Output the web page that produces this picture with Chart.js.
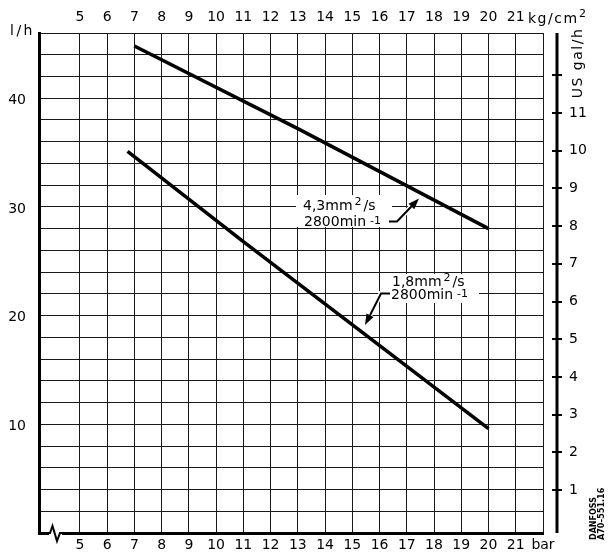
<!DOCTYPE html>
<html>
<head>
<meta charset="utf-8">
<script src="https://cdn.jsdelivr.net/npm/chart.js@4.4.0/dist/chart.umd.min.js"></script>
<style>
  html, body { margin: 0; padding: 0; background: #fff; }
  #wrap { width: 615px; height: 556px; }
</style>
</head>
<body>
<div id="wrap"><canvas id="chart" width="615" height="556"></canvas></div>
<script>
// pressure ticks (bar / kg/cm2), flow ticks (l/h), US gal/h ticks
const barTicks = [5, 6, 7, 8, 9, 10, 11, 12, 13, 14, 15, 16, 17, 18, 19, 20, 21];
const flowTicks = [10, 20, 30, 40];
const galTicks = [1, 2, 3, 4, 5, 6, 7, 8, 9, 10, 11];
const galMarks = [1, 2, 3, 4, 5, 6, 7, 8, 9, 10, 11, 12];

// curves
const visc43Pressure = [7, 13, 20];
const visc43Flow = [44.8, 37.2, 28.0];
const visc18Pressure = [6.75, 11, 20];
const visc18Flow = [35.1, 26.8, 9.6];

const FONT = '"DejaVu Sans", sans-serif';
const GRID = "#1a1a1a";

function toPoints(xs, ys) {
  return xs.map((x, i) => ({ x, y: ys[i] }));
}

function drawRich(ctx, x, y, parts) {
  parts.forEach(p => {
    ctx.font = p.size + "px " + FONT;
    x += p.dx || 0;
    ctx.fillText(p.t, x, y + (p.dy || 0));
    x += ctx.measureText(p.t).width;
  });
}

function arrow(ctx, pts) {
  const n = pts.length;
  const [tx, ty] = pts[n - 1];
  const [px, py] = pts[n - 2];
  const ang = Math.atan2(ty - py, tx - px);
  const len = 11, half = 4;
  const bx = tx - len * Math.cos(ang), by = ty - len * Math.sin(ang);
  // white halo then black stroke
  [["#fff", 5], ["#000", 2]].forEach(([c, w]) => {
    ctx.strokeStyle = c;
    ctx.lineWidth = w;
    ctx.beginPath();
    ctx.moveTo(pts[0][0], pts[0][1]);
    for (let i = 1; i < n - 1; i++) ctx.lineTo(pts[i][0], pts[i][1]);
    ctx.lineTo(bx, by);
    ctx.stroke();
  });
  ctx.fillStyle = "#000";
  ctx.beginPath();
  ctx.moveTo(tx, ty);
  ctx.lineTo(bx + half * Math.sin(ang), by - half * Math.cos(ang));
  ctx.lineTo(bx - half * Math.sin(ang), by + half * Math.cos(ang));
  ctx.closePath();
  ctx.fill();
}

const extras = {
  id: "extras",
  afterDraw(chart) {
    const ctx = chart.ctx;
    const area = chart.chartArea;
    const y2 = chart.scales.y2;
    ctx.save();
    ctx.fillStyle = "#000";
    ctx.strokeStyle = "#000";

    // right hand US gal/h axis
    const ax = 557;
    ctx.lineWidth = 3;
    ctx.beginPath();
    ctx.moveTo(ax, area.top);
    ctx.lineTo(ax, area.bottom);
    ctx.stroke();
    ctx.lineWidth = 2;
    galMarks.forEach(v => {
      const py = Math.round(y2.getPixelForValue(v));
      ctx.beginPath();
      ctx.moveTo(ax - 5, py);
      ctx.lineTo(ax + 5, py);
      ctx.stroke();
    });

    // unit labels
    ctx.textBaseline = "middle";
    ctx.textAlign = "left";
    ctx.font = "14px " + FONT;
    ctx.letterSpacing = "2.5px";
    ctx.fillText("l/h", 10, 31);
    ctx.letterSpacing = "1.5px";
    ctx.fillText("kg/cm", 528, 19);
    ctx.letterSpacing = "0px";
    ctx.font = "11px " + FONT;
    ctx.fillText("2", 579, 14);

    ctx.save();
    ctx.translate(578.5, 63);
    ctx.rotate(-Math.PI / 2);
    ctx.textAlign = "center";
    ctx.font = "14px " + FONT;
    ctx.letterSpacing = "1.5px";
    ctx.fillText("US gal/h", 0, 0);
    ctx.restore();

    // axis break on the pressure axis
    ctx.fillStyle = "#fff";
    ctx.fillRect(49, area.bottom - 3, 13, 6);
    ctx.strokeStyle = "#000";
    ctx.lineWidth = 2;
    ctx.beginPath();
    ctx.moveTo(48, area.bottom);
    ctx.lineTo(50, area.bottom);
    ctx.lineTo(52.5, area.bottom - 7);
    ctx.lineTo(57, area.bottom + 8);
    ctx.lineTo(60, area.bottom);
    ctx.lineTo(63, area.bottom);
    ctx.stroke();

    // curve annotations
    ctx.fillStyle = "#fff";
    ctx.fillRect(296, 195, 96, 32);
    ctx.fillRect(383, 274, 96, 29);
    ctx.fillStyle = "#000";
    ctx.textBaseline = "alphabetic";
    drawRich(ctx, 303, 209.5, [{ t: "4,3mm", size: 14 }, { t: "2", size: 11, dx: 2, dy: -5 }, { t: "/s", size: 14, dx: 2 }]);
    drawRich(ctx, 304, 225.5, [{ t: "2800min", size: 14 }, { t: "-1", size: 11, dx: 4, dy: -2 }]);
    drawRich(ctx, 392, 285.5, [{ t: "1,8mm", size: 14 }, { t: "2", size: 11, dx: 2, dy: -5 }, { t: "/s", size: 14, dx: 2 }]);
    drawRich(ctx, 391, 298.5, [{ t: "2800min", size: 14 }, { t: "-1", size: 11, dx: 4, dy: -2 }]);
    arrow(ctx, [[389, 221.5], [397, 221.5], [419, 198.5]]);
    arrow(ctx, [[390, 293.5], [381, 293.5], [365, 325]]);

    // drawing number
    ctx.font = "bold 8px " + FONT;
    ctx.textBaseline = "middle";
    ctx.textAlign = "left";
    ctx.save();
    ctx.translate(594, 540);
    ctx.rotate(-Math.PI / 2);
    ctx.fillText("DANFOSS", 0, 0);
    ctx.restore();
    ctx.save();
    ctx.translate(601.5, 540);
    ctx.rotate(-Math.PI / 2);
    ctx.fillText("A70\u2013551.16", 0, 0);
    ctx.restore();

    ctx.restore();
  }
};

const flowGrid = [];
for (let v = 0; v <= 46; v += 2) flowGrid.push(v);

const tickFont = { family: FONT, size: 14 };

new Chart(document.getElementById("chart"), {
  type: "line",
  data: {
    datasets: [
      {
        label: "4,3 mm2/s",
        data: toPoints(visc43Pressure, visc43Flow),
        borderColor: "#000",
        borderWidth: 3.5,
        pointRadius: 0,
        tension: 0
      },
      {
        label: "1,8 mm2/s",
        data: toPoints(visc18Pressure, visc18Flow),
        borderColor: "#000",
        borderWidth: 3.5,
        pointRadius: 0,
        tension: 0
      }
    ]
  },
  options: {
    responsive: false,
    animation: false,
    layout: { padding: 0 },
    plugins: { legend: { display: false }, tooltip: { enabled: false } },
    scales: {
      x: {
        type: "linear",
        position: "bottom",
        min: 3.5,
        max: 22,
        afterBuildTicks: s => { s.ticks = barTicks.concat([22]).map(v => ({ value: v })); },
        afterFit: s => { s.height = 23; },
        ticks: {
          autoSkip: false,
          maxRotation: 0,
          padding: 4,
          color: "#000",
          font: tickFont,
          callback: v => (v === 22 ? "bar" : v)
        },
        grid: { color: GRID, lineWidth: 1, drawTicks: false },
        border: { color: "#000", width: 3 }
      },
      x2: {
        type: "linear",
        position: "top",
        min: 3.5,
        max: 22,
        afterBuildTicks: s => { s.ticks = barTicks.map(v => ({ value: v })); },
        afterFit: s => { s.height = 33; },
        ticks: { autoSkip: false, maxRotation: 0, padding: 7, color: "#000", font: tickFont },
        grid: { drawOnChartArea: false, drawTicks: false },
        border: { color: GRID, width: 1 }
      },
      y: {
        min: 0,
        max: 46,
        afterBuildTicks: s => { s.ticks = flowGrid.map(v => ({ value: v })); },
        afterFit: s => { s.width = 39; },
        ticks: {
          autoSkip: false,
          padding: 13,
          labelOffset: 2,
          color: "#000",
          font: tickFont,
          callback: v => (flowTicks.includes(v) ? v : "")
        },
        grid: { color: GRID, lineWidth: 1, drawTicks: false },
        border: { color: "#000", width: 3 }
      },
      y2: {
        position: "right",
        min: -0.138,
        max: 13.12,
        afterBuildTicks: s => { s.ticks = galTicks.map(v => ({ value: v })); },
        afterFit: s => {
          s.width = 72;
          s.paddingTop = 0;
          s.paddingBottom = 0;
        },
        ticks: { autoSkip: false, padding: 26, color: "#000", font: tickFont },
        grid: { display: false, drawTicks: false },
        border: { display: false }
      }
    }
  },
  plugins: [extras]
});
</script>
</body>
</html>
